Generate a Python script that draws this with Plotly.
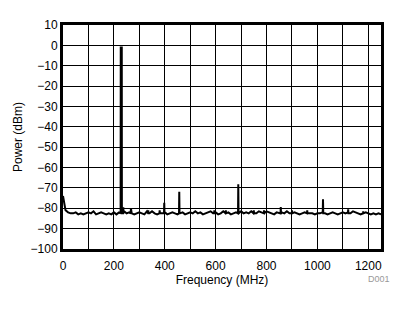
import plotly.graph_objects as go

# Noise floor, every 10 MHz from 0 to 1250 MHz (dBm)
floor_freq_step = 10
floor_dbm = [
    -74.0, -81.0, -82.0, -82.5, -82.5, -82.0, -83.0, -82.5, -83.0, -82.5,
    -82.0, -82.5, -81.5, -83.0, -82.5, -82.0, -82.5, -83.0, -82.5, -83.0,
    -82.0, -83.0, -82.0, -82.5, -81.5, -82.5, -82.0, -82.5, -83.0, -82.5,
    -82.0, -82.5, -83.0, -81.5, -82.5, -81.5, -82.5, -83.0, -81.5, -82.5,
    -82.0, -83.0, -82.5, -82.0, -82.5, -83.0, -82.5, -82.0, -83.0, -82.5,
    -82.0, -82.5, -81.5, -82.5, -82.0, -83.0, -82.5, -82.0, -81.5, -82.5,
    -82.0, -83.0, -82.5, -81.5, -82.5, -82.0, -83.0, -82.5, -82.0, -82.0,
    -81.5, -82.5, -82.0, -82.5, -81.5, -82.0, -82.5, -81.5, -82.0, -82.5,
    -81.5, -82.0, -82.5, -83.0, -82.0, -82.5, -82.0, -82.5, -81.5, -82.5,
    -82.5, -82.0, -82.5, -83.0, -82.5, -82.0, -81.5, -82.5, -82.5, -83.0,
    -82.5, -82.5, -82.0, -82.5, -83.0, -82.5, -82.0, -82.5, -83.0, -82.5,
    -82.0, -82.5, -82.0, -82.5, -81.5, -82.0, -82.5, -83.0, -82.5, -82.0,
    -82.5, -83.0, -82.5, -83.0, -82.5, -83.0,
]

# Fundamental tone (MHz, dBm)
tone_freq = 229
tone_dbm = -0.5

# Spurs (MHz, dBm)
spur_freq = [237, 267, 335, 380, 398, 457, 595, 640, 689, 750, 790, 856, 900, 960, 1022, 1121, 1180]
spur_dbm = [-79.5, -80.0, -81.0, -81.0, -77.3, -71.9, -81.0, -81.0, -68.2, -81.0, -81.0, -79.4, -81.0, -81.0, -75.6, -80.5, -81.5]
spur_base_dbm = -82.5

pts = [(i * floor_freq_step, v) for i, v in enumerate(floor_dbm)]
for f, v in zip(spur_freq, spur_dbm):
    pts += [(f - 1.0, spur_base_dbm), (f, v), (f + 1.0, spur_base_dbm)]
pts += [(tone_freq - 2.5, spur_base_dbm), (tone_freq - 2.0, tone_dbm),
        (tone_freq + 2.0, tone_dbm), (tone_freq + 2.5, spur_base_dbm)]
pts.sort(key=lambda p: p[0])
freq = [p[0] for p in pts]
power = [p[1] for p in pts]

fig = go.Figure(go.Scatter(x=freq, y=power, mode="lines",
                           line=dict(color="black", width=2), showlegend=False))

font = dict(family="Liberation Sans, Arial, sans-serif", size=12, color="black")
fig.update_layout(
    width=419, height=312,
    margin=dict(l=63, r=38, t=25, b=63),
    paper_bgcolor="white", plot_bgcolor="white",
    font=font,
    xaxis=dict(range=[0, 1250], dtick=200, tick0=0, showgrid=True, gridcolor="black", gridwidth=1,
               minor=dict(dtick=100, tick0=0, showgrid=True, gridcolor="black", gridwidth=1),
               showline=True, linecolor="black", linewidth=3, mirror=True, zeroline=False,
               ticks="", ticklabelstandoff=4,
               title=dict(text="Frequency (MHz)", standoff=4, font=font)),
    yaxis=dict(range=[-100, 10], dtick=10, tick0=0, showgrid=True, gridcolor="black", gridwidth=1,
               showline=True, linecolor="black", linewidth=3, mirror=True, zeroline=False,
               ticks="", title=dict(text="Power (dBm)", standoff=6, font=font)),
)
pw, ph = 419 - 63 - 38, 312 - 25 - 63
fig.add_annotation(text="D001", x=(392 - 63) / pw, y=(312 - 63 - 286) / ph,
                   xref="paper", yref="paper", showarrow=False,
                   font=dict(family="Liberation Sans, Arial, sans-serif", size=9, color="#999999"))
fig.write_html("out.html")
